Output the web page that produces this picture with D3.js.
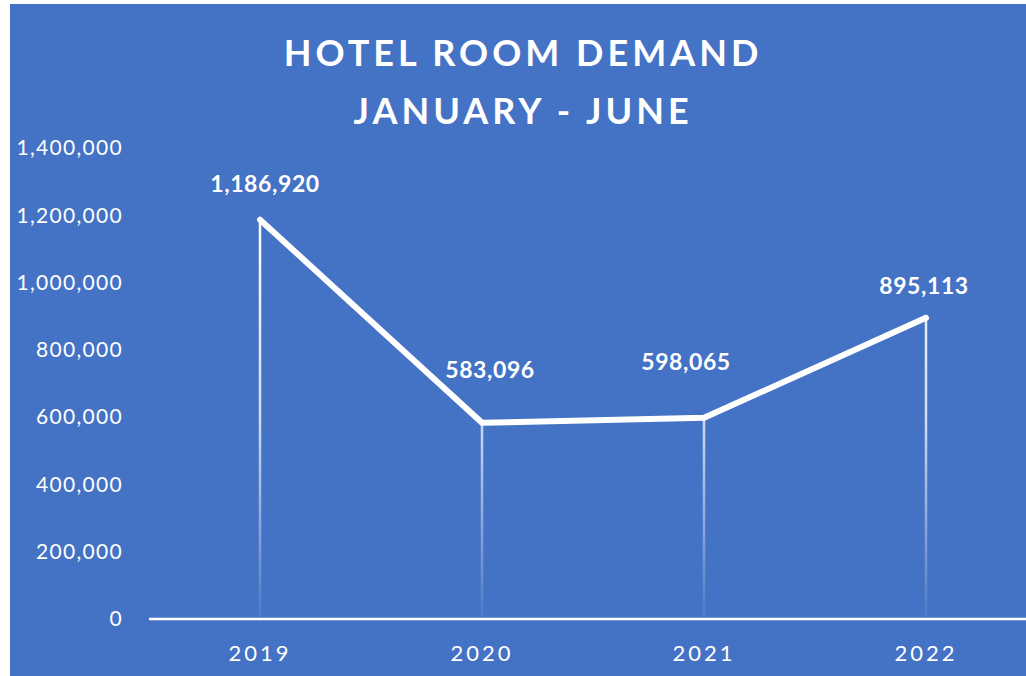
<!DOCTYPE html>
<html lang="en">
<head>
<meta charset="UTF-8">
<title>Hotel Room Demand</title>
<script src="https://d3js.org/d3.v7.min.js"></script>
<style>
    body { margin: 0; background: #fff; }
    svg { display: block; }
    text { font-family: Lato, "Open Sans", sans-serif; fill: #fff; }
</style>
</head>
<body>
<svg id="chart" width="1026" height="676"></svg>
<script>
    const years = ["2019", "2020", "2021", "2022"];
    const demand = [1186920, 583096, 598065, 895113];
    const yTicks = [0, 200000, 400000, 600000, 800000, 1000000, 1200000, 1400000];
    const titleLines = ["HOTEL ROOM DEMAND", "JANUARY - JUNE"];

    const svg = d3.select("#chart");
    const W = 1026, H = 676;

    // chart area background
    svg.append("rect")
        .attr("x", 10).attr("y", 4)
        .attr("width", W - 10).attr("height", H - 4)
        .attr("fill", "#4472C4");

    const x = d3.scaleBand().domain(years).range([149, 1037]);
    const y = d3.scaleLinear().domain([0, 1400000]).range([619, 148]);
    const cx = d => x(d) + x.bandwidth() / 2;

    // title
    svg.selectAll(".title")
        .data(titleLines)
        .enter().append("text")
        .attr("class", "title")
        .attr("x", 523)
        .attr("y", (d, i) => 66 + i * 58)
        .attr("text-anchor", "middle")
        .attr("font-size", 36)
        .attr("font-weight", "bold")
        .attr("letter-spacing", 4)
        .text(d => d);

    // y axis labels
    const yAxis = d3.axisLeft(y)
        .tickValues(yTicks)
        .tickFormat(d3.format(","))
        .tickSize(0)
        .tickPadding(0);
    const gy = svg.append("g")
        .attr("transform", "translate(123,0)")
        .call(yAxis);
    gy.select(".domain").remove();
    gy.selectAll("text")
        .attr("font-size", 21)
        .attr("letter-spacing", 1.3)
        .attr("font-family", "Lato, 'Open Sans', sans-serif")
        .attr("fill", "#fff");

    // gradient for drop lines
    const defs = svg.append("defs");
    const grad = defs.append("linearGradient")
        .attr("id", "dropGrad")
        .attr("gradientUnits", "userSpaceOnUse")
        .attr("x1", 0).attr("x2", 0)
        .attr("y1", y(1186920)).attr("y2", y(0));
    grad.append("stop").attr("offset", "0%").attr("stop-color", "#fff").attr("stop-opacity", 1);
    grad.append("stop").attr("offset", "50%").attr("stop-color", "#fff").attr("stop-opacity", 0.75);
    grad.append("stop").attr("offset", "100%").attr("stop-color", "#fff").attr("stop-opacity", 0.05);

    const data = years.map((yr, i) => ({ year: yr, value: demand[i] }));

    svg.selectAll(".drop")
        .data(data)
        .enter().append("line")
        .attr("class", "drop")
        .attr("x1", d => cx(d.year)).attr("x2", d => cx(d.year))
        .attr("y1", d => y(d.value)).attr("y2", y(0))
        .attr("stroke", "url(#dropGrad)")
        .attr("stroke-width", 2.5);

    // x axis
    const xAxis = d3.axisBottom(x).tickSize(0).tickPadding(26);
    const gx = svg.append("g")
        .attr("transform", `translate(0,${y(0)})`)
        .call(xAxis);
    gx.select(".domain")
        .attr("stroke", "#fff")
        .attr("stroke-width", 2.5)
        .attr("d", `M149,0H1037`);
    gx.selectAll("text")
        .attr("font-size", 22)
        .attr("letter-spacing", 3)
        .attr("font-family", "Lato, 'Open Sans', sans-serif")
        .attr("fill", "#fff");

    // line
    const line = d3.line()
        .x(d => cx(d.year))
        .y(d => y(d.value));
    svg.append("path")
        .datum(data)
        .attr("fill", "none")
        .attr("stroke", "#fff")
        .attr("stroke-width", 6)
        .attr("stroke-linecap", "round")
        .attr("stroke-linejoin", "round")
        .attr("d", line);

    // data labels
    const labelShift = [[5, -28], [8, -45], [-18, -48], [-2, -24]];
    svg.selectAll(".dlabel")
        .data(data)
        .enter().append("text")
        .attr("class", "dlabel")
        .attr("x", (d, i) => cx(d.year) + labelShift[i][0])
        .attr("y", (d, i) => y(d.value) + labelShift[i][1])
        .attr("text-anchor", "middle")
        .attr("font-size", 23)
        .attr("font-weight", "bold")
        .attr("letter-spacing", 0.6)
        .text(d => d3.format(",")(d.value));
</script>
</body>
</html>
